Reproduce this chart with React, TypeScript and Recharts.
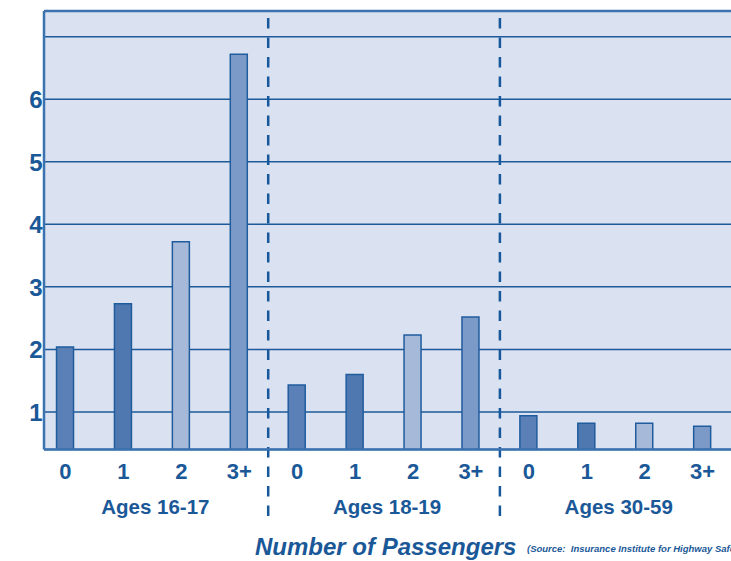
import { BarChart, Bar, XAxis, YAxis, CartesianGrid, ReferenceLine, Cell } from "recharts";

const passengers = ["0", "1", "2", "3+", "0", "1", "2", "3+", "0", "1", "2", "3+"];
const ageGroups = ["Ages 16-17", "Ages 18-19", "Ages 30-59"];
const ratios = [2.04, 2.73, 3.72, 6.72, 1.43, 1.6, 2.23, 2.52, 0.94, 0.82, 0.82, 0.77];
const yTicks = [1, 2, 3, 4, 5, 6, 7];

const barFills = ["#5b80b7", "#4f78b1", "#a7b9d8", "#7b9ac7"];
const ink = "#1a5898";
const font = "'Liberation Sans', Arial, sans-serif";

const data = ratios.map((v, i) => ({ idx: i, ratio: v, label: passengers[i] }));
const groupTicks = ageGroups.map((_, g) => g * 4 + 1.5);
const xDomain = [-0.371, 11.49];

const PassengerTick = ({ x, y, payload }: any) => (
  <text x={x} y={y} dy={21} textAnchor="middle" fill={ink} fontFamily={font} fontWeight="bold" fontSize={22}>
    {passengers[payload.value]}
  </text>
);

const GroupTick = ({ x, y, payload }: any) => (
  <text x={x + 3} y={y} dy={16} textAnchor="middle" fill={ink} fontFamily={font} fontWeight="bold" fontSize={20.5}>
    {ageGroups[(payload.value - 1.5) / 4]}
  </text>
);

const YTick = ({ x, y, payload }: any) =>
  payload.value === 7 ? null : (
    <text x={x} y={y} dy={9} textAnchor="middle" fill={ink} fontFamily={font} fontWeight="bold" fontSize={24}>
      {payload.value}
    </text>
  );

export default function App() {
  return (
    <div style={{ position: "absolute", left: 0, top: 0, width: 731, height: 561, background: "#fff" }}>
      <BarChart width={731} height={561} data={data} margin={{ top: 11, right: 0, bottom: 0, left: 0 }}>
        <CartesianGrid
          vertical={false}
          stroke="#1d5a9a"
          strokeWidth={1.5}
          fill="#dae1f0"
          fillOpacity={1}
        />
        <XAxis
          xAxisId="a"
          type="number"
          dataKey="idx"
          domain={xDomain}
          allowDataOverflow
          ticks={passengers.map((_, i) => i)}
          interval={0}
          tick={<PassengerTick />}
          tickLine={false}
          axisLine={{ stroke: "#3b72b0", strokeWidth: 2.5 }}
          height={40}
        />
        <XAxis
          xAxisId="b"
          type="number"
          dataKey="idx"
          domain={xDomain}
          allowDataOverflow
          ticks={groupTicks}
          interval={0}
          tick={<GroupTick />}
          tickLine={false}
          axisLine={false}
          height={71.5}
        />
        <YAxis
          type="number"
          domain={[0.4, 7.41]}
          allowDataOverflow
          ticks={yTicks}
          interval={0}
          tick={<YTick />}
          tickLine={false}
          axisLine={{ stroke: "#3b72b0", strokeWidth: 2.5 }}
          width={44}
        />
        <ReferenceLine xAxisId="a" y={7.41} stroke="#3b72b0" strokeWidth={2.5} />
        {[3.5, 7.5].map((xv) => (
          <ReferenceLine
            key={xv}
            xAxisId="a"
            segment={[{ x: xv, y: 7.3 }, { x: xv, y: -0.73 }]}
            ifOverflow="visible"
            stroke="#17579b"
            strokeWidth={2.5}
            strokeDasharray="10.5 9"
          />
        ))}
        <Bar xAxisId="a" dataKey="ratio" barSize={17} stroke="#1f5c9e" strokeWidth={1.5} isAnimationActive={false}>
          {data.map((d) => (
            <Cell key={d.idx} fill={barFills[d.idx % 4]} />
          ))}
        </Bar>
      </BarChart>
      <div
        style={{
          position: "absolute",
          left: 255,
          top: 533,
          fontFamily: font,
          fontWeight: "bold",
          fontStyle: "italic",
          fontSize: 24,
          color: ink,
          whiteSpace: "nowrap",
          lineHeight: "28px",
        }}
      >
        Number of Passengers
      </div>
      <div
        style={{
          position: "absolute",
          left: 527,
          top: 543,
          fontFamily: font,
          fontWeight: "bold",
          fontStyle: "italic",
          fontSize: 9.5,
          color: ink,
          whiteSpace: "pre",
          lineHeight: "12px",
          width: 204,
          overflow: "hidden",
        }}
      >
        (Source:  Insurance Institute for Highway Safety)
      </div>
    </div>
  );
}
